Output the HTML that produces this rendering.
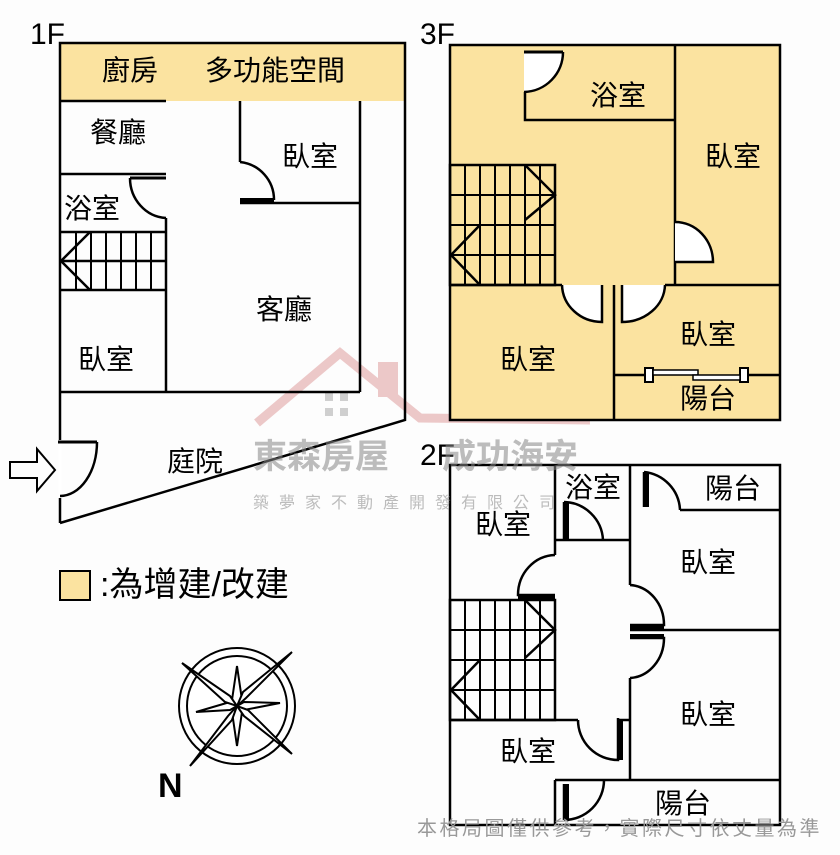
<!DOCTYPE html>
<html><head><meta charset="utf-8"><style>
html,body{margin:0;padding:0;background:#fff}
svg{display:block}
text{font-family:"Liberation Sans","Noto Sans CJK TC",sans-serif}
</style></head><body>
<svg width="840" height="855" viewBox="0 0 840 855" xmlns="http://www.w3.org/2000/svg">
<rect width="840" height="855" fill="#fdfdfd"/>
<!-- watermark -->
<g opacity="0.45">
<polyline points="257,423 340,353 420,418 590,420" fill="none" stroke="#d98a8a" stroke-width="9"/>
<rect x="378" y="362" width="20" height="35" fill="#d98a8a"/>
<rect x="325" y="393" width="8" height="8" fill="#999"/><rect x="340" y="393" width="8" height="8" fill="#999"/>
<rect x="325" y="408" width="8" height="8" fill="#999"/><rect x="340" y="408" width="8" height="8" fill="#999"/>
</g>
<!-- 1F -->
<g stroke="#000" stroke-width="2.5" fill="none">
<rect x="60" y="43" width="345" height="58" fill="#fbe3a0" stroke="none"/>
<polyline points="60,523 60,43 405,43 405,420 60,523" />
<line x1="60" y1="101" x2="166" y2="101"/>
<line x1="240" y1="101" x2="240" y2="162"/>
<path d="M240,162 A38,38 0 0 1 274,200"/>
<line x1="240" y1="200" x2="274" y2="200" stroke-width="4"/>
<line x1="240" y1="203" x2="360" y2="203"/>
<line x1="360" y1="101" x2="360" y2="392"/>
<line x1="60" y1="392" x2="360" y2="392"/>
<line x1="60" y1="174" x2="166" y2="174"/>
<line x1="130" y1="178" x2="166" y2="178" stroke-width="3"/>
<path d="M130,178 A38,40 0 0 0 166,218"/>
<line x1="166" y1="218" x2="166" y2="392"/>
<line x1="60" y1="232" x2="166" y2="232"/>
<line x1="60" y1="290" x2="166" y2="290"/>
<line x1="60" y1="261" x2="166" y2="261"/>
<g stroke-width="2"><line x1="76" y1="232" x2="76" y2="290"/><line x1="91" y1="232" x2="91" y2="290"/><line x1="106" y1="232" x2="106" y2="290"/><line x1="121" y1="232" x2="121" y2="290"/><line x1="136" y1="232" x2="136" y2="290"/><line x1="151" y1="232" x2="151" y2="290"/></g>
<polyline points="90,232 61,261 90,290"/>
<polygon points="10,462 37,462 37,449 55,470 37,491 37,478 10,478" stroke-width="2"/>
</g>
<line x1="60" y1="440" x2="60" y2="498" stroke="#fff" stroke-width="3"/>
<line x1="58" y1="442" x2="97" y2="442" stroke="#000" stroke-width="3"/>
<path d="M97,442 A37,54 0 0 1 60,496" stroke="#000" stroke-width="2.5" fill="none"/>
<!-- 3F -->
<g stroke="#000" stroke-width="2.5" fill="none">
<rect x="450" y="45" width="330" height="375" fill="#fbe3a0"/>
<path d="M524,52 L563,52 A40,40 0 0 1 524,92 Z" fill="#fff" stroke="none"/>
<line x1="524" y1="52" x2="563" y2="52" stroke-width="3"/>
<path d="M563,52 A40,40 0 0 1 524,92"/>
<polyline points="525,92 525,120 675,120"/>
<line x1="675" y1="45" x2="675" y2="285"/>
<path d="M675,222 A38,40 0 0 1 713,262 L675,262 Z" fill="#fff" stroke="none"/>
<path d="M675,222 A38,40 0 0 1 713,262 L675,262"/>
<line x1="450" y1="285" x2="562" y2="285"/>
<line x1="665" y1="285" x2="780" y2="285"/>
<path d="M562,285 A40,38 0 0 0 602,322 L602,285 Z" fill="#fff" stroke="none"/>
<path d="M562,285 A40,38 0 0 0 602,322 L602,285"/>
<path d="M665,285 A43,38 0 0 1 622,322 L622,285 Z" fill="#fff" stroke="none"/>
<path d="M665,285 A43,38 0 0 1 622,322 L622,285"/>
<line x1="614" y1="285" x2="614" y2="420"/>
<line x1="614" y1="375" x2="645" y2="375"/><line x1="745" y1="375" x2="780" y2="375"/>
<rect x="645" y="368" width="8" height="14" fill="#fff" stroke-width="2"/>
<rect x="740" y="368" width="8" height="14" fill="#fff" stroke-width="2"/>
<rect x="653" y="370" width="45" height="5" fill="#fff" stroke-width="1.5"/>
<rect x="693" y="375" width="47" height="5" fill="#fff" stroke-width="1.5"/>
<rect x="450" y="165" width="105" height="120"/>
<g stroke-width="2">
<line x1="450" y1="195" x2="555" y2="195"/><line x1="450" y1="225" x2="555" y2="225"/><line x1="450" y1="255" x2="555" y2="255"/>
<line x1="465" y1="165" x2="465" y2="285"/><line x1="480" y1="165" x2="480" y2="285"/><line x1="495" y1="165" x2="495" y2="285"/><line x1="510" y1="165" x2="510" y2="285"/><line x1="525" y1="165" x2="525" y2="285"/><line x1="540" y1="165" x2="540" y2="285"/>
</g>
<polyline points="525,165 555,195 525,220"/>
<polyline points="480,225 451,255 480,285"/>
</g>
<!-- 2F -->
<g stroke="#000" stroke-width="2.5" fill="none">
<rect x="450" y="465" width="330" height="360"/>
<line x1="555" y1="465" x2="555" y2="555"/>
<line x1="555" y1="540" x2="630" y2="540" />
<line x1="630" y1="465" x2="630" y2="585"/>
<line x1="630" y1="678" x2="630" y2="780"/>
<line x1="680" y1="510" x2="780" y2="510"/>
<line x1="630" y1="630" x2="780" y2="630"/>
<line x1="555" y1="780" x2="780" y2="780"/>
<line x1="555" y1="780" x2="555" y2="825"/>
<path d="M644,472 L644,507 M644,472 A40,40 0 0 1 680,510"/>
<line x1="647" y1="472" x2="647" y2="507" stroke-width="4"/>
<path d="M564,502 L564,540 M564,502 A40,40 0 0 1 603,540"/>
<line x1="567" y1="502" x2="567" y2="540" stroke-width="4"/>
<path d="M555,555 A38,40 0 0 0 518,595 L555,595"/>
<line x1="518" y1="597" x2="555" y2="597" stroke-width="4"/>
<path d="M630,585 A36,40 0 0 1 664,625 L630,625"/>
<path d="M630,678 A36,40 0 0 0 664,638 L630,638"/>
<line x1="630" y1="627" x2="664" y2="627" stroke-width="4"/>
<line x1="630" y1="636" x2="664" y2="636" stroke-width="4"/>
<rect x="450" y="600" width="105" height="120"/>
<g stroke-width="2">
<line x1="450" y1="630" x2="555" y2="630"/><line x1="450" y1="660" x2="555" y2="660"/><line x1="450" y1="690" x2="555" y2="690"/>
<line x1="465" y1="600" x2="465" y2="720"/><line x1="480" y1="600" x2="480" y2="720"/><line x1="495" y1="600" x2="495" y2="720"/><line x1="510" y1="600" x2="510" y2="720"/><line x1="525" y1="600" x2="525" y2="720"/><line x1="540" y1="600" x2="540" y2="720"/>
</g>
<polyline points="525,600 555,630 525,658"/>
<polyline points="480,660 451,690 480,720"/>
<line x1="450" y1="720" x2="578" y2="720"/>
<path d="M578,720 A40,40 0 0 0 618,760 L618,718"/>
<line x1="621" y1="720" x2="621" y2="760" stroke-width="4"/>
<line x1="618" y1="720" x2="630" y2="720"/>
<path d="M564,784 L564,820 M564,820 A40,40 0 0 0 604,780"/>
<line x1="567" y1="784" x2="567" y2="820" stroke-width="4"/>
</g>
<!-- labels -->
<g font-size="28" fill="#000">
<text x="30" y="44" font-size="30">1F</text>
<text x="420" y="44" font-size="30">3F</text>
<text x="420" y="465" font-size="30">2F</text>
<text x="102" y="80">廚房</text>
<text x="205" y="80">多功能空間</text>
<text x="90" y="142">餐廳</text>
<text x="282" y="166">臥室</text>
<text x="64" y="218">浴室</text>
<text x="256" y="319">客廳</text>
<text x="78" y="369">臥室</text>
<text x="167" y="471">庭院</text>
<text x="590" y="105">浴室</text>
<text x="705" y="166">臥室</text>
<text x="500" y="369">臥室</text>
<text x="680" y="344">臥室</text>
<text x="680" y="408">陽台</text>
<text x="565" y="497">浴室</text>
<text x="705" y="498">陽台</text>
<text x="475" y="534">臥室</text>
<text x="680" y="572">臥室</text>
<text x="680" y="724">臥室</text>
<text x="500" y="761">臥室</text>
<text x="655" y="813">陽台</text>
<text x="100" y="596" font-size="34">:為增建/改建</text>
<text x="158" y="797" font-size="34" font-weight="bold">N</text>
</g>
<rect x="60" y="571" width="30" height="29" fill="#fbe3a0" stroke="#000" stroke-width="2"/>
<!-- watermark text -->
<g fill="#888" opacity="0.55">
<text x="253" y="468" font-size="34" font-weight="bold">東森房屋</text>
<text x="442" y="468" font-size="34" font-weight="bold">成功海安</text>
<text x="253" y="508" font-size="16" letter-spacing="10">築夢家不動產開發有限公司</text>
</g>
<text x="417" y="835" font-size="20" letter-spacing="2.5" fill="#999">本格局圖僅供參考，實際尺寸依丈量為準</text>
<!-- compass -->
<g stroke="#000" stroke-width="2" fill="#fff">
<circle cx="237" cy="706" r="58"/>
<circle cx="237" cy="706" r="50"/>
<polygon points="237,666 242,700 237,706 232,700"/>
<polygon points="237,746 242,712 237,706 232,712"/>
<polygon points="196,712 230,702 237,706 230,710"/>
<polygon points="280,703 244,702 237,706 244,710"/>
<polygon points="182,663 230,696 237,706 225,702"/>
<polygon points="292,652 246,698 237,706 243,692"/>
<polygon points="292,754 244,716 237,706 248,710"/>
<polygon points="190,766 228,716 237,706 232,720"/>
</g>
</svg>
</body></html>
